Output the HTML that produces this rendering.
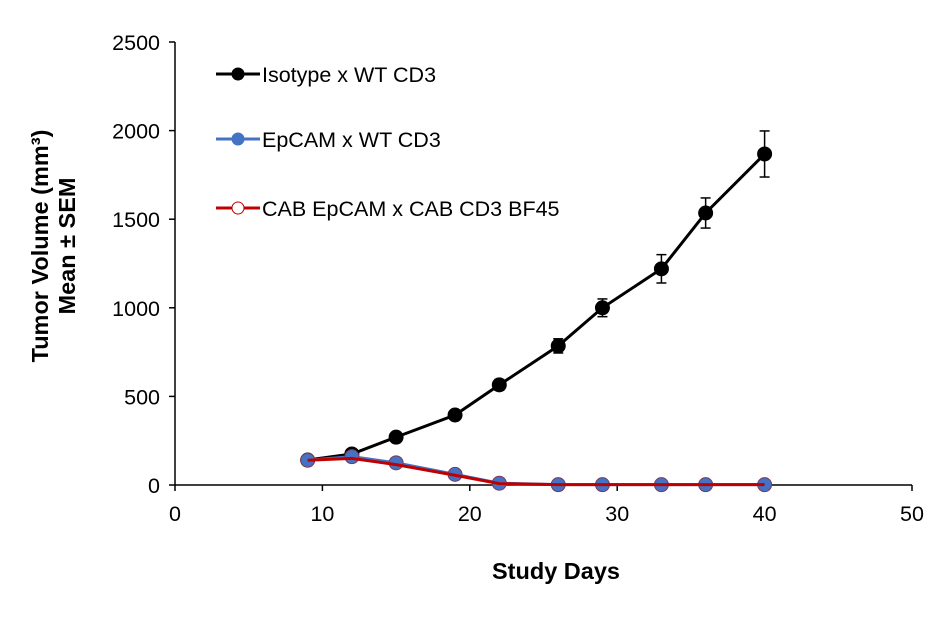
<!DOCTYPE html>
<html><head><meta charset="utf-8"><style>
body{margin:0;background:#fff;}
svg text{font-family:"Liberation Sans",Arial,sans-serif;}
</style></head><body>
<svg id="c" width="945" height="618" xmlns="http://www.w3.org/2000/svg"></svg>
<script>
const days=[9,12,15,19,22,26,29,33,36,40];
const isotype=[141,175,270,395,565,785,1000,1220,1535,1868];
const isotypeErr=[10,10,12,15,30,40,50,80,85,130];
const epcam=[140,160,125,60,10,2,2,2,2,2];
const cab=[140,150,115,55,8,2,2,2,2,2];
const xTicks=[0,10,20,30,40,50];
const yTicks=[0,500,1000,1500,2000,2500];
const NS="http://www.w3.org/2000/svg";
const svg=document.getElementById('c');
const X0=175,X1=912,Y0=485,Y1=42;
const xs=v=>X0+(v/50)*(X1-X0);
const ys=v=>Y0-(v/2500)*(Y0-Y1);
function el(t,a,p){const e=document.createElementNS(NS,t);for(const k in a)e.setAttribute(k,a[k]);(p||svg).appendChild(e);return e;}
let e;
e=el('line',{x1:X0,y1:Y1,x2:X0,y2:Y0,stroke:'#000','stroke-width':1.5});


e=el('line',{x1:X0,y1:Y0,x2:X1,y2:Y0,stroke:'#000','stroke-width':1.5});


yTicks.forEach(v=>{
  el('line',{x1:X0-6,x2:X0,y1:ys(v),y2:ys(v),stroke:'#000','stroke-width':1.5});
  e=el('text',{x:X0-15,y:ys(v)+8,'text-anchor':'end','font-size':21.5});
  e.textContent=v;
  
  
});
xTicks.forEach(v=>{
  el('line',{x1:xs(v),x2:xs(v),y1:Y0,y2:Y0+6,stroke:'#000','stroke-width':1.5});
  e=el('text',{x:xs(v),y:Y0+36,'text-anchor':'middle','font-size':21.5});
  e.textContent=v;
  
  
});
e=el('text',{x:556,y:579,'text-anchor':'middle','font-size':23.5,'font-weight':'bold'});
e.textContent='Study Days';


const yt=el('text',{transform:'translate(48,246) rotate(-90)','text-anchor':'middle','font-size':23.5,'font-weight':'bold'});


const t1=el('tspan',{x:0,y:0},yt);t1.textContent='Tumor Volume (mm³)';
const t2=el('tspan',{x:0,y:27},yt);t2.textContent='Mean ± SEM';
days.forEach((d,i)=>{
  const g=el('g',{stroke:'#000','stroke-width':1.5});
  
  
  const x=xs(d),a=ys(isotype[i]+isotypeErr[i]),b=ys(isotype[i]-isotypeErr[i]);
  el('line',{x1:x,x2:x,y1:a,y2:b},g);
  el('line',{x1:x-5,x2:x+5,y1:a,y2:a},g);
  el('line',{x1:x-5,x2:x+5,y1:b,y2:b},g);
});
function series(vals,line,fill,stroke,name,r){
  e=el('polyline',{points:days.map((d,i)=>xs(d)+','+ys(vals[i])).join(' '),fill:'none',stroke:line,'stroke-width':3});
  
  
  days.forEach((d,i)=>{
    e=el('circle',{cx:xs(d),cy:ys(vals[i]),r:r,fill:fill,stroke:stroke,'stroke-width':1});
    
    
  });
}
series(isotype,'#000','#000','#000','isotype',7);
series(epcam,'#4472c4','#4472c4','#7a3a5a','epcam',7);
e=el('polyline',{points:days.map((d,i)=>xs(d)+','+ys(cab[i])).join(' '),fill:'none',stroke:'#c00000','stroke-width':3});


const leg=[['Isotype x WT CD3','#000','#000',74],['EpCAM x WT CD3','#4472c4','#4472c4',139],['CAB EpCAM x CAB CD3 BF45','#c00000','#fff',208]];
leg.forEach(([lab,lc,fc,y])=>{
  const g=el('g',{});
  
  
  el('line',{x1:216,x2:260,y1:y,y2:y,stroke:lc,'stroke-width':3},g);
  el('circle',{cx:238,cy:y,r:6,fill:fc,stroke:lc,'stroke-width':1},g);
  const t=el('text',{x:262,y:y+8,'font-size':21.5},g);t.textContent=lab;
});
</script>
</body></html>
